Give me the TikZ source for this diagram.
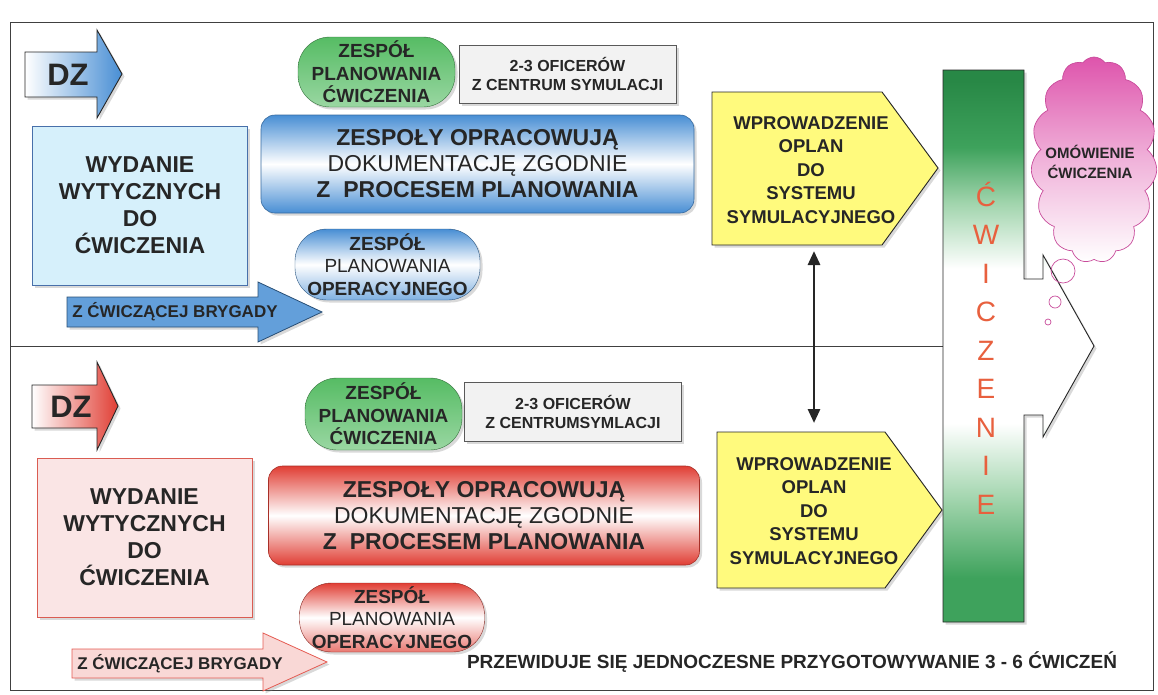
\documentclass[tikz,border=0pt]{standalone}
\usepackage{fontspec}
\setmainfont{Liberation Sans}
\usepackage{tikz}
\usetikzlibrary{arrows.meta,shapes.symbols,shadows}

\definecolor{zblue}{RGB}{72,142,212}
\definecolor{zred}{RGB}{224,62,52}
\definecolor{zgreen}{RGB}{86,188,100}
\definecolor{zyellow}{RGB}{255,250,125}
\definecolor{zbar}{RGB}{62,162,92}
\definecolor{zbarmid}{RGB}{160,212,172}
\definecolor{zbardark}{RGB}{40,136,70}
\definecolor{zpink}{RGB}{222,84,172}
\definecolor{zletter}{RGB}{232,96,62}
\definecolor{skyfill}{RGB}{214,240,251}
\definecolor{skyline}{RGB}{72,112,170}
\definecolor{rosefill}{RGB}{250,229,229}
\definecolor{roseline}{RGB}{218,92,82}
\definecolor{greyfill}{RGB}{242,242,242}

\pgfdeclareverticalshading{barshade}{100bp}{color(0bp)=(zbar); color(29bp)=(zbar);
  color(36bp)=(zbarmid); color(43bp)=(white); color(57bp)=(white); color(63bp)=(zbarmid);
  color(68bp)=(zbar); color(74bp)=(zbardark); color(100bp)=(zbardark)}

\begin{document}
\begin{tikzpicture}[x=1pt, y=-1pt,
    shadowed/.style={drop shadow={shadow xshift=2.5pt, shadow yshift=-2.5pt, opacity=0.3}},
    frame/.style={draw=black!75, line width=0.9pt},
    dzarrow/.style={draw=black!85, line width=0.9pt, left color=white, right color=#1, shadowed},
    dztext/.style={font=\fontsize{31}{31}\selectfont\bfseries, text=black!85, inner sep=0pt},
    guidebox/.style={
      rectangle, draw=#1, line width=0.8pt,
      minimum width=215pt, minimum height=159pt,
      align=center, font=\fontsize{23}{27}\selectfont\bfseries, text=black!85, shadowed,
    },
    teambox/.style={
      rectangle, rounded corners=14pt, draw=#1!75!black, line width=0.6pt,
      top color=#1, bottom color=#1, middle color=white,
      minimum width=433pt, minimum height=98pt,
      align=center, font=\fontsize{23}{26}\selectfont\bfseries, text=black!85, shadowed,
    },
    pill/.style={
      rectangle, rounded corners=32pt, inner sep=0pt,
      minimum width=157pt, minimum height=70pt,
      align=center, font=\fontsize{19}{22.5}\selectfont\bfseries, text=black!85, shadowed,
    },
    greenpill/.style={pill, top color=zgreen, bottom color=zgreen!60!white,
      middle color=zgreen!80!white, draw=zgreen!60!black, line width=0.4pt},
    duopill/.style={pill, top color=#1, bottom color=#1!70!white, middle color=white,
      draw=#1!60!black, line width=0.4pt, minimum width=185pt},
    offbox/.style={
      rectangle, draw=black!65, line width=0.7pt, fill=greyfill,
      minimum width=217pt, minimum height=58pt,
      align=center, font=\fontsize{16}{19}\selectfont\bfseries, text=black!85, shadowed,
    },
    brigarrow/.style={line width=0.8pt, shadowed},
    brigtext/.style={font=\fontsize{17}{17}\selectfont\bfseries, text=black!85, inner sep=0pt},
    signbox/.style={draw=black!85, line width=0.9pt, fill=zyellow, shadowed},
    signtext/.style={align=center, font=\fontsize{18.5}{23.5}\selectfont\bfseries, text=black!85, inner sep=0pt},
    link/.style={{Triangle[length=14pt,width=12pt]}-{Triangle[length=14pt,width=12pt]},
      line width=2.8pt, draw=black!85},
    bubble/.style={draw=zpink!90!black, line width=0.7pt},
  ]

  \useasboundingbox (0,0) rectangle (1158,694);

  % Frame and divider
  \draw[frame] (10,22) rectangle (1153,690);
  \draw[frame] (10,346) -- (943,346);

  % Upper exercise (blue)
  \path[dzarrow=zblue] (25,52) -- (97,52) -- (97,30) -- (122,74) -- (97,118) -- (97,97) -- (25,97) -- cycle;
  \node[dztext] (dzT) at (68,75) {DZ};
  \node[guidebox=skyline, fill=skyfill] (guideT) at (140,205.5) {WYDANIE\\WYTYCZNYCH\\DO\\ĆWICZENIA};
  \path[brigarrow, fill=zblue!85, draw=zblue!55!black]
    (67,297) -- (258,297) -- (258,282) -- (322,312) -- (258,342) -- (258,327) -- (67,327) -- cycle;
  \node[brigtext] (brigT) at (175,312) {Z ĆWICZĄCEJ BRYGADY};

  \node[greenpill] (exteamT) at (376.5,72) {ZESPÓŁ\\PLANOWANIA\\ĆWICZENIA};
  \node[offbox] (officersT) at (567.5,74) {2-3 OFICERÓW\\Z CENTRUM SYMULACJI};
  \node[teambox=zblue] (teamsT) at (477.5,164)
    {ZESPOŁY OPRACOWUJĄ\\{\mdseries DOKUMENTACJĘ ZGODNIE}\\Z~ PROCESEM PLANOWANIA};
  \node[duopill=zblue, minimum height=71pt] (opteamT) at (387.5,264.5)
    {ZESPÓŁ\\{\mdseries PLANOWANIA}\\OPERACYJNEGO};

  \path[signbox] (712,92) -- (882,92) -- (938,168) -- (882,245) -- (712,245) -- cycle;
  \node[signtext] (entryT) at (811,170) {WPROWADZENIE\\OPLAN\\DO\\SYSTEMU\\SYMULACYJNEGO};

  % Lower exercise (red)
  \path[dzarrow=zred] (32,385) -- (97,385) -- (97,362) -- (118,406) -- (97,450) -- (97,428) -- (32,428) -- cycle;
  \node[dztext] (dzB) at (71,407) {DZ};
  \node[guidebox=roseline, fill=rosefill] (guideB) at (144.5,537.5) {WYDANIE\\WYTYCZNYCH\\DO\\ĆWICZENIA};
  \path[brigarrow, fill=zred!20, draw=zred!85]
    (72,649) -- (263,649) -- (263,633) -- (327,662) -- (263,691) -- (263,678) -- (72,678) -- cycle;
  \node[brigtext] (brigB) at (180,664) {Z ĆWICZĄCEJ BRYGADY};

  \node[greenpill, minimum height=72pt] (exteamB) at (383.5,414) {ZESPÓŁ\\PLANOWANIA\\ĆWICZENIA};
  \node[offbox, minimum height=59pt] (officersB) at (573,412) {2-3 OFICERÓW\\Z CENTRUMSYMLACJI};
  \node[teambox=zred, minimum width=431pt, minimum height=99pt] (teamsB) at (484,515.5)
    {ZESPOŁY OPRACOWUJĄ\\{\mdseries DOKUMENTACJĘ ZGODNIE}\\Z~ PROCESEM PLANOWANIA};
  \node[duopill=zred, minimum height=69pt] (opteamB) at (392,617.5)
    {ZESPÓŁ\\{\mdseries PLANOWANIA}\\OPERACYJNEGO};

  \path[signbox] (717,432) -- (885,432) -- (942,510) -- (885,588) -- (717,588) -- cycle;
  \node[signtext] (entryB) at (814,511) {WPROWADZENIE\\OPLAN\\DO\\SYSTEMU\\SYMULACYJNEGO};

  % Link between the two simulation entries
  \coordinate (linkT) at (814,251);
  \coordinate (linkB) at (814,423);
  \draw[link] (linkT) -- (linkB);

  % Exercise bar with arrow
  \path[draw=black!85, line width=0.9pt, shade, shading=barshade, shadowed]
    (943,70) -- (1024,70) -- (1024,279) -- (1043,279) -- (1043,255) -- (1094,346)
    -- (1043,437) -- (1043,415) -- (1024,415) -- (1024,622) -- (943,622) -- cycle;
  \node[font=\fontsize{28}{38.5}\selectfont, text=zletter, align=center, inner sep=0pt]
    (exercise) at (986,348) {Ć\\W\\I\\C\\Z\\E\\N\\I\\E};

  % Debrief cloud
  \draw[bubble] (1063,271) circle[radius=12pt];
  \draw[bubble] (1055,302) circle[radius=6pt];
  \draw[bubble] (1048,322) circle[radius=3pt];
  \node[cloud, cloud puffs=15, cloud puff arc=110, cloud ignores aspect,
    minimum width=126pt, minimum height=206pt, inner sep=0pt,
    top color=zpink, bottom color=white, middle color=zpink!45!white,
    draw=zpink!90!black, line width=0.7pt] (debrief) at (1094,160) {};
  \node[font=\fontsize{15}{20}\selectfont\bfseries, text=black!85, align=center, inner sep=0pt]
    (debrieftext) at (1090,162) {OMÓWIENIE\\ĆWICZENIA};

  % Note
  \node[font=\fontsize{19}{19}\selectfont\bfseries, text=black!85, inner sep=0pt]
    (note) at (792,662) {PRZEWIDUJE SIĘ JEDNOCZESNE PRZYGOTOWYWANIE 3 - 6 ĆWICZEŃ};

\end{tikzpicture}
\end{document}
